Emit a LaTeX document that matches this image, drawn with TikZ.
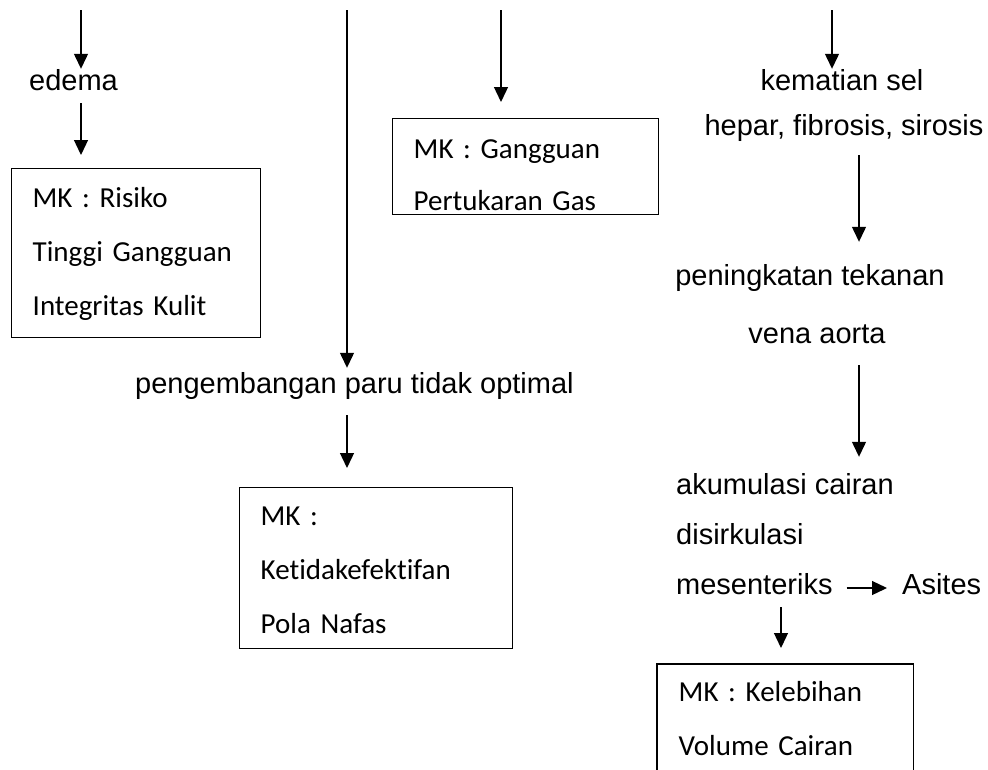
\documentclass[tikz,border=0pt]{standalone}
\usepackage{fontspec}
\setmainfont{Liberation Sans}
\newfontfamily\boxfont[Ligatures=NoCommon]{Carlito}
\usetikzlibrary{arrows.meta,positioning,calc}
\tikzset{
  mkbox/.style={draw,rectangle,line width=1.4pt,anchor=north west,align=left,inner xsep=21pt,inner ysep=0pt,font=\boxfont\fontsize{29}{54}\selectfont},
  openbox/.style={mkbox,draw=none},
  lbl/.style={inner sep=0pt,font=\fontsize{29}{35}\selectfont},
  arr/.style={-{Triangle[length=15pt,width=14pt]},line width=1.3pt},
  boxline/.style={line width=1.4pt}
}

\begin{document}
\begin{tikzpicture}[x=1pt,y=-1pt]
  \useasboundingbox (0,0) rectangle (988,769);
  % arrow columns
  \coordinate (top1) at (81,10);
  \coordinate (top2) at (347,10);
  \coordinate (top3) at (501,10);
  \coordinate (top4) at (832,10);
  \coordinate (colR) at (859,10);
  \coordinate (colM) at (781,10);

  % Left branch
  \node[lbl, anchor=base west] (edema) at (29,90) {edema};
  \node[mkbox, text width=207pt, text height=39pt, text depth=130pt] (risiko) at (11,168)
    {MK : Risiko\\Tinggi Gangguan\\Integritas Kulit};
  \draw[arr] (top1) -- (top1 |- edema.north);
  \draw[arr, shorten <=13pt, shorten >=13pt] (edema.south -| top1) -- (risiko.north -| top1);

  % Middle branch
  \node[lbl, anchor=base west] (paru) at (135,393) {pengembangan paru tidak optimal};
  \node[mkbox, text width=231pt, text height=38pt, text depth=123pt] (nafas) at (239,487)
    {MK :\\Ketidakefektifan\\Pola Nafas};
  \draw[arr, shorten >=4pt] (top2) -- (top2 |- paru.north);
  \draw[arr, shorten <=16pt, shorten >=19pt] (paru.south -| top2) -- (nafas.north -| top2);

  % Gas exchange
  \node[mkbox, text width=224pt, text height=40pt, text depth=56pt, font=\boxfont\fontsize{29}{52}\selectfont] (gas) at (392,118)
    {MK : Gangguan\\Pertukaran Gas};
  \draw[arr, shorten >=16pt] (top3) -- (top3 |- gas.north);

  % Right branch
  \node[lbl, anchor=base] (kematian) at (842,90) {kematian sel};
  \node[lbl, anchor=base] (hepar) at (844,135) {hepar, fibrosis, sirosis};
  \node[lbl, anchor=base] (tekanan) at (810,285) {peningkatan tekanan};
  \node[lbl, anchor=base] (vena) at (817,343) {vena aorta};
  \node[lbl, anchor=base west] (akumulasi) at (676,494) {akumulasi cairan};
  \node[lbl, anchor=base west] (disirkulasi) at (676,544) {disirkulasi};
  \node[lbl, anchor=base west] (mes) at (676,594) {mesenteriks};
  \node[lbl, anchor=base west] (asites) at (902,594) {Asites};
  \draw[arr] (top4) -- (top4 |- kematian.north);
  \draw[arr, shorten <=14pt, shorten >=22pt] (hepar.south -| colR) -- (tekanan.north -| colR);
  \draw[arr, shorten <=22pt, shorten >=16pt] (vena.south -| colR) -- (akumulasi.north -| colR);
  \draw[arr, shorten <=14pt, shorten >=15pt] ([yshift=6pt]mes.base east) -- ([yshift=6pt]asites.base west);

  % Fluid volume box (cut at the bottom)
  \node[openbox, text width=213pt, text height=37pt, text depth=68pt] (cairan) at (657,664)
    {MK : Kelebihan\\Volume Cairan};
  \draw[boxline] (cairan.south west) -- (cairan.north west) -- (cairan.north east) -- (cairan.south east);
  \draw[arr, shorten <=13pt, shorten >=16pt] (mes.south -| colM) -- (cairan.north -| colM);
\end{tikzpicture}
\end{document}
